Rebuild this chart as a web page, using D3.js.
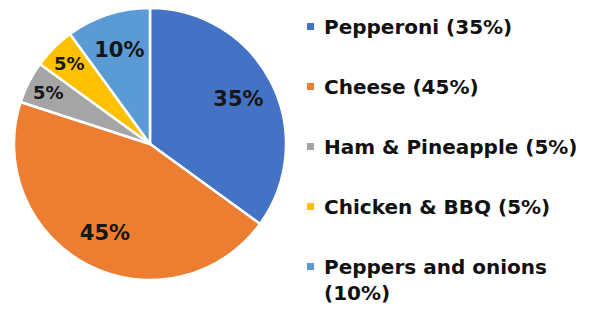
<!DOCTYPE html>
<html><head><meta charset="utf-8">
<script src="https://cdn.jsdelivr.net/npm/d3@7"></script>
<style>html,body{margin:0;padding:0;background:#fff;}</style>
</head><body>
<svg id="chart" width="599" height="311"></svg>
<script>
const categories = ["Pepperoni", "Cheese", "Ham & Pineapple", "Chicken & BBQ", "Peppers and onions"];
const values = [35, 45, 5, 5, 10];
const colors = ["#4472C4", "#ED7D31", "#A5A5A5", "#FFC000", "#5B9BD5"];
const legendLabels = [["Pepperoni (35%)"], ["Cheese (45%)"], ["Ham & Pineapple (5%)"], ["Chicken & BBQ (5%)"], ["Peppers and onions", "(10%)"]];

const svg = d3.select("#chart");
const cx = 150, cy = 144, r = 136;
const font = "'DejaVu Sans', sans-serif";

const pie = d3.pie().sort(null).value(d => d)(values);
const arc = d3.arc().innerRadius(0).outerRadius(r);
const g = svg.append("g").attr("transform", `translate(${cx},${cy})`);
g.selectAll("path").data(pie).join("path")
  .attr("d", arc)
  .attr("fill", (d, i) => colors[i])
  .attr("stroke", "#fff").attr("stroke-width", 2.5).attr("stroke-linejoin", "round");

g.selectAll("text").data(pie).join("text")
  .attr("transform", d => {
    const lr = d.data <= 5 ? r * 0.84 : r * 0.73;
    const a = d3.arc().innerRadius(lr).outerRadius(lr);
    const [x, y] = a.centroid(d);
    return `translate(${x},${y})`;
  })
  .attr("text-anchor", "middle").attr("dy", "0.36em")
  .attr("font-family", font).attr("font-weight", "bold")
  .attr("font-size", d => d.data <= 5 ? 18 : 21)
  .attr("fill", "#161616")
  .text(d => d.data + "%");

const leg = svg.append("g");
const rowY = d3.scalePoint().domain(d3.range(categories.length)).range([34, 274]);
categories.forEach((c, i) => {
  const y = rowY(i);
  leg.append("rect").attr("x", 307).attr("y", y - 11).attr("width", 7).attr("height", 7).attr("fill", colors[i]);
  const t = leg.append("text").attr("x", 324).attr("y", y)
    .attr("font-family", font).attr("font-weight", "bold").attr("font-size", 20).attr("fill", "#111");
  legendLabels[i].forEach((line, j) => {
    t.append("tspan").attr("x", 324).attr("dy", j === 0 ? 0 : 26).text(line);
  });
});
</script>
</body></html>
